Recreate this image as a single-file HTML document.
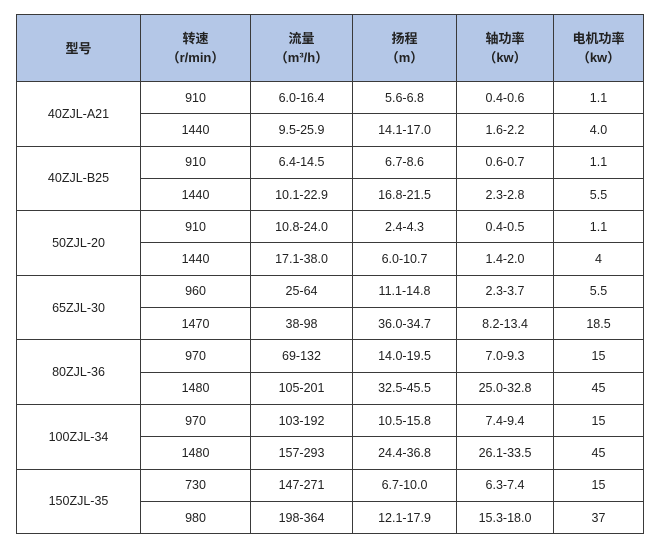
<!DOCTYPE html>
<html><head><meta charset="utf-8"><style>
body{margin:0;background:#fff;width:660px;height:547px;overflow:hidden}
table{position:absolute;left:16px;top:14px;border-collapse:collapse;font-family:"Liberation Sans","Noto Sans CJK SC",sans-serif;font-size:12.5px;color:#222;table-layout:fixed}
td,th{border:1.3px solid #3a3a3a;text-align:center;padding:0;height:31.3px}
th{background:#b4c7e7;height:66px;font-weight:bold;font-size:13px;line-height:19px}
</style></head><body>
<table>
<colgroup><col style="width:124px"><col style="width:110px"><col style="width:102px"><col style="width:104px"><col style="width:97px"><col style="width:90px"></colgroup>
<tr><th>型号</th><th>转速<br>（r/min）</th><th>流量<br>（m³/h）</th><th>扬程<br>（m）</th><th>轴功率<br>（kw）</th><th>电机功率<br>（kw）</th></tr>
<tr><td rowspan="2">40ZJL-A21</td><td>910</td><td>6.0-16.4</td><td>5.6-6.8</td><td>0.4-0.6</td><td>1.1</td></tr>
<tr><td>1440</td><td>9.5-25.9</td><td>14.1-17.0</td><td>1.6-2.2</td><td>4.0</td></tr>
<tr><td rowspan="2">40ZJL-B25</td><td>910</td><td>6.4-14.5</td><td>6.7-8.6</td><td>0.6-0.7</td><td>1.1</td></tr>
<tr><td>1440</td><td>10.1-22.9</td><td>16.8-21.5</td><td>2.3-2.8</td><td>5.5</td></tr>
<tr><td rowspan="2">50ZJL-20</td><td>910</td><td>10.8-24.0</td><td>2.4-4.3</td><td>0.4-0.5</td><td>1.1</td></tr>
<tr><td>1440</td><td>17.1-38.0</td><td>6.0-10.7</td><td>1.4-2.0</td><td>4</td></tr>
<tr><td rowspan="2">65ZJL-30</td><td>960</td><td>25-64</td><td>11.1-14.8</td><td>2.3-3.7</td><td>5.5</td></tr>
<tr><td>1470</td><td>38-98</td><td>36.0-34.7</td><td>8.2-13.4</td><td>18.5</td></tr>
<tr><td rowspan="2">80ZJL-36</td><td>970</td><td>69-132</td><td>14.0-19.5</td><td>7.0-9.3</td><td>15</td></tr>
<tr><td>1480</td><td>105-201</td><td>32.5-45.5</td><td>25.0-32.8</td><td>45</td></tr>
<tr><td rowspan="2">100ZJL-34</td><td>970</td><td>103-192</td><td>10.5-15.8</td><td>7.4-9.4</td><td>15</td></tr>
<tr><td>1480</td><td>157-293</td><td>24.4-36.8</td><td>26.1-33.5</td><td>45</td></tr>
<tr><td rowspan="2">150ZJL-35</td><td>730</td><td>147-271</td><td>6.7-10.0</td><td>6.3-7.4</td><td>15</td></tr>
<tr><td>980</td><td>198-364</td><td>12.1-17.9</td><td>15.3-18.0</td><td>37</td></tr>
</table>
</body></html>
